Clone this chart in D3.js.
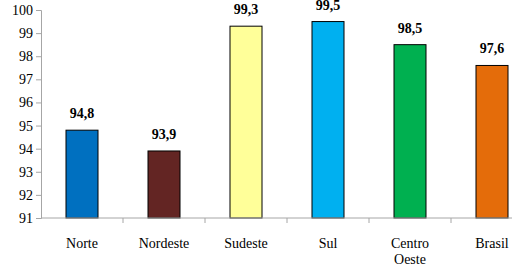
<!DOCTYPE html>
<html>
<head>
<meta charset="utf-8">
<script src="https://cdn.jsdelivr.net/npm/d3@7"></script>
</head>
<body style="margin:0; background:#fff">
<svg id="chart" width="512" height="267" font-family="Liberation Serif" style="display:block"></svg>
<script>
// 資料
const categories = ["Norte", "Nordeste", "Sudeste", "Sul", "Centro Oeste", "Brasil"];
const values = [94.8, 93.9, 99.3, 99.5, 98.5, 97.6];
const barColors = ["#0070C0", "#632523", "#FFFF99", "#00B0F0", "#00B050", "#E46C0A"];
const yTicks = [91, 92, 93, 94, 95, 96, 97, 98, 99, 100];

const W = 512, H = 267;
const margin = {top: 10, left: 41, bottom: 49};
const bandW = 82;
const barW = 32;

const svg = d3.select("#chart");

// 比例尺
const band = d3.scaleBand()
    .domain(categories)
    .range([margin.left, margin.left + bandW * categories.length]);

const y = d3.scaleLinear()
    .domain([91, 100])
    .range([H - margin.bottom, margin.top]);

// bars
svg.selectAll(".bar")
    .data(categories)
    .enter()
    .append("rect")
    .attr("class", "bar")
    .attr("x", d => band(d) + (bandW - barW) / 2)
    .attr("y", (d, i) => y(values[i]))
    .attr("width", barW)
    .attr("height", (d, i) => y(91) - y(values[i]))
    .attr("fill", (d, i) => barColors[i])
    .attr("stroke", "#000")
    .attr("stroke-width", 1);

// 數值標籤
svg.selectAll(".label")
    .data(categories)
    .enter()
    .append("text")
    .attr("class", "label")
    .attr("x", d => band(d) + bandW / 2)
    .attr("y", (d, i) => y(values[i]) - 12)
    .attr("text-anchor", "middle")
    .attr("font-size", 14)
    .attr("font-weight", "bold")
    .text((d, i) => values[i].toFixed(1).replace(".", ","));

// y 軸
const yAxis = svg.append("g")
    .attr("transform", `translate(${margin.left},0)`)
    .call(d3.axisLeft(y).tickValues(yTicks).tickSize(5).tickPadding(3).tickFormat(d3.format("d")))
    .attr("font-family", null)
    .attr("font-size", 14);
yAxis.selectAll("line, path").attr("stroke", "#a6a6a6");
yAxis.selectAll("text").attr("fill", "#000");

// x 軸 (ticks at band edges)
const xAxisG = svg.append("g")
    .attr("transform", `translate(0,${y(91)})`);
xAxisG.append("line")
    .attr("x1", margin.left).attr("x2", W)
    .attr("stroke", "#a6a6a6");
xAxisG.selectAll(".xtick")
    .data(categories)
    .enter()
    .append("line")
    .attr("x1", d => band(d) + bandW)
    .attr("x2", d => band(d) + bandW)
    .attr("y2", 5)
    .attr("stroke", "#a6a6a6");

xAxisG.selectAll(".xlabel")
    .data(categories)
    .enter()
    .append("text")
    .attr("x", d => band(d) + bandW / 2)
    .attr("y", 30)
    .attr("text-anchor", "middle")
    .attr("font-size", 14)
    .each(function(d) {
        const words = d.split(" ");
        const t = d3.select(this);
        words.forEach((w, i) => {
            t.append("tspan")
                .attr("x", band(d) + bandW / 2)
                .attr("dy", i === 0 ? 0 : 16)
                .text(w);
        });
    });
</script>
</body>
</html>
